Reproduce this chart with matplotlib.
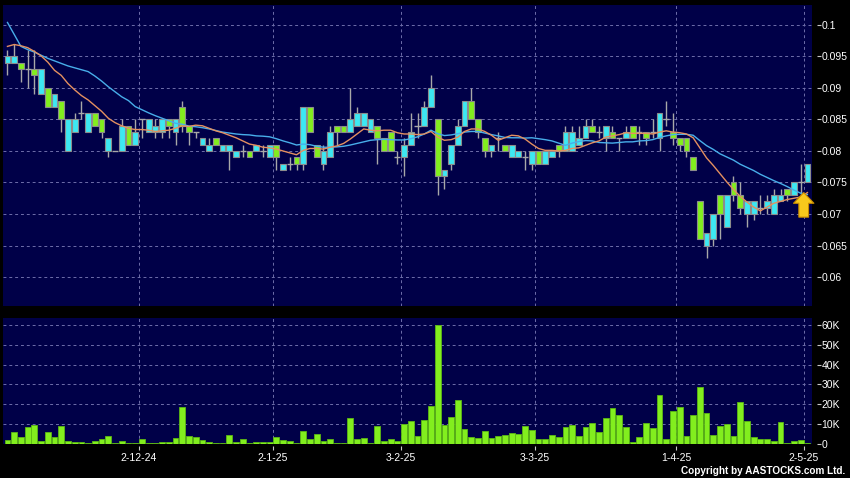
import numpy as np
import matplotlib
matplotlib.use("Agg")
import matplotlib.pyplot as plt

# ---------------- data ----------------
opens = [0.094, 0.094, 0.094, 0.093, 0.093, 0.089, 0.090, 0.087, 0.088, 0.080,
         0.083, 0.086, 0.083, 0.086, 0.085, 0.080, 0.080, 0.080, 0.084, 0.081,
         0.085, 0.083, 0.083, 0.083, 0.085, 0.083, 0.087, 0.084, 0.083, 0.081,
         0.080, 0.082, 0.080, 0.080, 0.079, 0.080, 0.080, 0.080, 0.080, 0.079,
         0.081, 0.077, 0.078, 0.079, 0.078, 0.087, 0.081, 0.078, 0.079, 0.084,
         0.084, 0.083, 0.084, 0.084, 0.083, 0.084, 0.082, 0.083, 0.079, 0.079,
         0.081, 0.084, 0.084, 0.087, 0.085, 0.076, 0.078, 0.081, 0.084, 0.088,
         0.085, 0.082, 0.080, 0.082, 0.081, 0.079, 0.079, 0.079, 0.078, 0.080,
         0.078, 0.079, 0.081, 0.080, 0.080, 0.081, 0.082, 0.084, 0.083, 0.082,
         0.083, 0.082, 0.082, 0.084, 0.083, 0.083, 0.083, 0.082, 0.085, 0.083,
         0.082, 0.082, 0.079, 0.072, 0.065, 0.066, 0.073, 0.068, 0.075, 0.073,
         0.070, 0.070, 0.071, 0.071, 0.070, 0.072, 0.074, 0.073, 0.075, 0.075]
closes = [0.095, 0.095, 0.093, 0.093, 0.092, 0.093, 0.087, 0.089, 0.085, 0.085,
          0.085, 0.086, 0.086, 0.084, 0.083, 0.082, 0.080, 0.084, 0.081, 0.083,
          0.085, 0.085, 0.084, 0.085, 0.084, 0.085, 0.084, 0.083, 0.083, 0.082,
          0.081, 0.081, 0.081, 0.081, 0.080, 0.080, 0.079, 0.081, 0.080, 0.081,
          0.079, 0.078, 0.078, 0.078, 0.087, 0.083, 0.079, 0.080, 0.083, 0.083,
          0.083, 0.085, 0.086, 0.086, 0.085, 0.082, 0.080, 0.080, 0.079, 0.081,
          0.083, 0.084, 0.087, 0.090, 0.076, 0.077, 0.081, 0.084, 0.088, 0.085,
          0.083, 0.080, 0.081, 0.082, 0.080, 0.081, 0.080, 0.079, 0.080, 0.078,
          0.080, 0.080, 0.080, 0.083, 0.083, 0.082, 0.084, 0.083, 0.083, 0.084,
          0.082, 0.082, 0.083, 0.082, 0.083, 0.082, 0.083, 0.086, 0.085, 0.082,
          0.081, 0.080, 0.077, 0.066, 0.067, 0.070, 0.070, 0.073, 0.073, 0.071,
          0.072, 0.072, 0.071, 0.072, 0.073, 0.073, 0.073, 0.075, 0.075, 0.078]
highs = [0.096, 0.097, 0.094, 0.096, 0.096, 0.093, 0.090, 0.089, 0.088, 0.085,
         0.086, 0.088, 0.086, 0.086, 0.085, 0.082, 0.080, 0.085, 0.084, 0.085,
         0.085, 0.085, 0.085, 0.085, 0.085, 0.085, 0.088, 0.084, 0.083, 0.082,
         0.082, 0.082, 0.081, 0.081, 0.080, 0.081, 0.080, 0.081, 0.081, 0.081,
         0.081, 0.078, 0.079, 0.079, 0.087, 0.087, 0.081, 0.081, 0.084, 0.084,
         0.084, 0.090, 0.087, 0.086, 0.085, 0.084, 0.082, 0.083, 0.080, 0.082,
         0.086, 0.086, 0.088, 0.092, 0.085, 0.077, 0.081, 0.085, 0.088, 0.090,
         0.085, 0.082, 0.081, 0.083, 0.081, 0.081, 0.080, 0.080, 0.080, 0.080,
         0.080, 0.080, 0.081, 0.084, 0.084, 0.084, 0.085, 0.085, 0.084, 0.084,
         0.084, 0.082, 0.084, 0.084, 0.084, 0.083, 0.085, 0.086, 0.088, 0.086,
         0.082, 0.082, 0.079, 0.072, 0.067, 0.070, 0.073, 0.073, 0.076, 0.075,
         0.072, 0.072, 0.073, 0.073, 0.074, 0.074, 0.074, 0.075, 0.078, 0.078]
lows = [0.092, 0.094, 0.091, 0.090, 0.089, 0.089, 0.087, 0.087, 0.083, 0.080,
        0.083, 0.085, 0.083, 0.084, 0.082, 0.079, 0.080, 0.080, 0.081, 0.081,
        0.082, 0.083, 0.082, 0.082, 0.082, 0.081, 0.083, 0.081, 0.082, 0.081,
        0.080, 0.081, 0.080, 0.077, 0.079, 0.079, 0.079, 0.080, 0.079, 0.079,
        0.077, 0.077, 0.077, 0.077, 0.077, 0.083, 0.079, 0.077, 0.079, 0.081,
        0.083, 0.083, 0.084, 0.084, 0.083, 0.078, 0.080, 0.080, 0.078, 0.076,
        0.081, 0.082, 0.084, 0.087, 0.073, 0.074, 0.077, 0.081, 0.084, 0.085,
        0.082, 0.079, 0.079, 0.080, 0.080, 0.079, 0.079, 0.077, 0.077, 0.078,
        0.078, 0.079, 0.079, 0.080, 0.080, 0.081, 0.082, 0.083, 0.082, 0.080,
        0.082, 0.080, 0.082, 0.082, 0.081, 0.081, 0.082, 0.080, 0.084, 0.081,
        0.080, 0.079, 0.077, 0.066, 0.063, 0.065, 0.066, 0.068, 0.072, 0.070,
        0.068, 0.069, 0.070, 0.070, 0.070, 0.072, 0.072, 0.073, 0.073, 0.075]
volumes_k = [2.0, 5.7, 3.5, 8.2, 9.4, 1.5, 6.0, 3.2, 8.7, 1.3,
             0.8, 0.8, 0.2, 1.3, 2.5, 3.9, 0.5, 1.5, 0.5, 0.2,
             2.2, 0.5, 0.5, 0.8, 1.0, 2.9, 18.3, 3.7, 3.4, 2.0,
             0.8, 0.2, 0.2, 4.2, 1.0, 2.2, 0.2, 1.0, 1.0, 1.0,
             3.5, 2.0, 1.3, 0.2, 6.4, 2.2, 4.7, 1.5, 2.4, 0.5,
             0.5, 13.0, 2.5, 2.9, 0.5, 8.7, 1.3, 2.5, 1.5, 9.7,
             11.6, 3.7, 12.1, 19.2, 60.0, 9.6, 13.6, 22.2, 7.6, 3.5,
             3.0, 6.4, 2.9, 4.0, 4.4, 5.2, 4.7, 8.9, 7.1, 2.4,
             2.4, 4.5, 3.4, 8.6, 9.4, 3.7, 8.4, 10.6, 5.7, 12.9,
             18.2, 14.6, 8.6, 1.0, 3.4, 10.6, 8.1, 24.7, 2.4, 16.3,
             18.3, 3.9, 14.5, 28.4, 15.6, 4.2, 8.7, 10.1, 3.9, 21.2,
             11.3, 3.2, 2.4, 2.4, 1.5, 11.1, 0.5, 1.3, 2.0, 0.3]
# moving-average values at the start of the window (prior history not shown)
ma10_head = [0.0966, 0.0969, 0.0967, 0.0964, 0.0958, 0.0951, 0.0941, 0.0928, 0.0920]
ma20_head = [0.1004, 0.0985, 0.0966, 0.0961, 0.0957, 0.0952, 0.0947, 0.0943, 0.0939,
             0.0935, 0.0932, 0.0929, 0.0926, 0.0919, 0.0911, 0.0902, 0.0894, 0.0886, 0.0880]

month_start_idx = [20, 40, 59, 79, 100, 119]
month_labels = ["2-12-24", "2-1-25", "3-2-25", "3-3-25", "1-4-25", "2-5-25"]
price_ticks = [0.06, 0.065, 0.07, 0.075, 0.08, 0.085, 0.09, 0.095, 0.1]
price_labels = ["0.06", "0.065", "0.07", "0.075", "0.08", "0.085", "0.09", "0.095", "0.1"]
vol_ticks = [0, 10, 20, 30, 40, 50, 60]
vol_labels = ["0", "10K", "20K", "30K", "40K", "50K", "60K"]

# ---------------- style ----------------
BG = "#000048"
GRID = "#6e6eaa"
CYAN = "#3de8f2"
GREEN = "#82ee1e"
EDGE = "#8c8c8c"
WICK = "#a8a8a8"
MA10_C = "#e49060"
MA20_C = "#48aeea"
FONT = "Liberation Sans"
PX = 72 / 100  # points per pixel

o = np.array(opens); c = np.array(closes); h = np.array(highs); l = np.array(lows)
v = np.array(volumes_k)
n = len(c)
x = np.arange(n)

ma10 = np.array([np.mean(c[i - 9:i + 1]) if i >= 9 else ma10_head[i] for i in range(n)])
ma20 = np.array([np.mean(c[i - 19:i + 1]) if i >= 19 else ma20_head[i] for i in range(n)])

W, H = 850, 478
fig = plt.figure(figsize=(W / 100, H / 100), dpi=100, facecolor="black")
L, R = 3.3, 811.7
ax = fig.add_axes([L / W, 1 - 306 / H, (R - L) / W, (306 - 5) / H], facecolor=BG)
axv = fig.add_axes([L / W, 1 - 443.6 / H, (R - L) / W, (443.6 - 318.3) / H], facecolor=BG)

xlim = (-0.62, n - 1 + 0.64)
grid_x = [m - 0.5 for m in month_start_idx]

# --- price panel ---
ax.set_xlim(*xlim)
ax.set_ylim(0.0554, 0.10317)
ax.set_yticks(price_ticks)
ax.set_yticklabels(price_labels)
ax.set_xticks(grid_x)
ax.set_xticklabels([])
ax.grid(True, color=GRID, ls=(0, (3, 3)), lw=0.7, zorder=0)
ax.set_axisbelow(True)

ax.vlines(x, l, h, color=WICK, lw=1.0, zorder=2)
up = c > o
dn = c < o
fl = c == o
ax.bar(x[up], (c - o)[up], bottom=o[up], width=0.86, color=CYAN,
       edgecolor=EDGE, linewidth=0.8, zorder=3)
ax.bar(x[dn], (o - c)[dn], bottom=c[dn], width=0.86, color=GREEN,
       edgecolor=EDGE, linewidth=0.8, zorder=3)
ax.hlines(c[fl], x[fl] - 0.45, x[fl] + 0.45, color=WICK, lw=1.0, zorder=3)

ax.plot(x, ma20, color=MA20_C, lw=1.0, zorder=4)
ax.plot(x, ma10, color=MA10_C, lw=1.0, zorder=5)

ax.annotate("", xy=(n - 1.55, ma10[-1]), xytext=(n - 1.55, ma10[-1] - 0.0039),
            arrowprops=dict(arrowstyle="simple,head_length=0.55,head_width=1.05,tail_width=0.5",
                            fc="#f8c91c", ec="#c88a00", lw=0.8, mutation_scale=14,
                            shrinkA=0, shrinkB=0),
            zorder=6)

for s in ax.spines.values():
    s.set_visible(False)
ax.yaxis.tick_right()
ax.spines["right"].set_position(("outward", 5.0 * PX))
ax.tick_params(axis="y", length=3.5 * PX, width=0.8, color="#c8c8c8", labelcolor="white",
               labelsize=7.5, pad=1.5 * PX)
ax.tick_params(axis="x", length=0, labelbottom=False)

# --- volume panel ---
axv.set_xlim(*xlim)
axv.set_ylim(0, 63.4)
axv.set_yticks(vol_ticks)
axv.set_yticklabels(vol_labels)
axv.set_xticks(grid_x)
axv.set_xticklabels(month_labels)
axv.grid(True, color=GRID, ls=(0, (3, 3)), lw=0.7, zorder=0)
axv.set_axisbelow(True)
axv.bar(x, v, width=0.86, color=GREEN, edgecolor="#5cb814", linewidth=0.6, zorder=3)
for s in axv.spines.values():
    s.set_visible(False)
axv.yaxis.tick_right()
axv.spines["right"].set_position(("outward", 5.0 * PX))
axv.spines["bottom"].set_position(("outward", 2.0 * PX))
axv.tick_params(axis="y", length=3.5 * PX, width=0.8, color="#c8c8c8", labelcolor="white",
                labelsize=7.5, pad=1.5 * PX)
axv.tick_params(axis="x", length=3.5 * PX, width=0.8, color="#c8c8c8", labelcolor="white",
                labelsize=7.5, pad=4.0 * PX)

for a in (ax, axv):
    for lab in a.get_xticklabels() + a.get_yticklabels():
        lab.set_fontfamily(FONT)

fig.text(845 / W, 1 - 471.5 / H, "Copyright by AASTOCKS.com Ltd.", ha="right", va="center",
         color="white", fontsize=7.2, family=FONT, fontweight="bold")

fig.savefig("out.png", dpi=100, facecolor="black")
